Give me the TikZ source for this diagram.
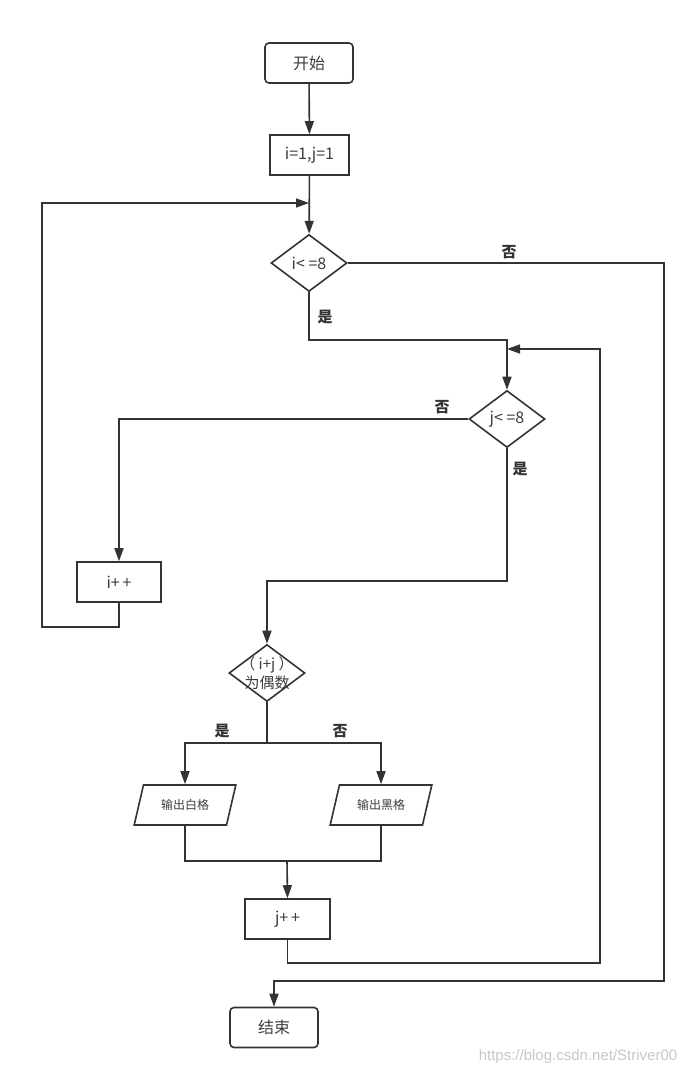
\documentclass[tikz,border=0pt]{standalone}
\usepackage{fontspec}
\setmainfont{Noto Sans CJK SC}
\newfontfamily\markfont{Liberation Sans}
\usepackage{tikz}
\usetikzlibrary{positioning, arrows.meta, shapes.geometric}

\definecolor{linegray}{HTML}{333333}
\definecolor{textgray}{HTML}{3C3C3C}

\tikzset{
    flowline/.style={draw=linegray, line width=1.6pt},
    flow/.style={flowline, -{Triangle[length=13pt, width=9pt]}},
    startstop/.style={rectangle, rounded corners=4pt, draw=linegray, line width=1.6pt, minimum width=88pt, minimum height=40pt, font=\fontsize{16}{18}\selectfont, text=textgray},
    procbox/.style={rectangle, draw=linegray, line width=1.6pt, minimum height=40pt, font=\fontsize{16}{18}\selectfont, text=textgray},
    decision/.style={diamond, draw=linegray, line width=1.6pt, aspect=1.33, minimum width=76pt, minimum height=57pt, inner sep=0pt, font=\fontsize{16}{18}\selectfont, text=textgray},
    iobox/.style={trapezium, trapezium left angle=71, trapezium right angle=109, trapezium stretches=true, draw=linegray, line width=1.6pt, minimum width=102pt, minimum height=40pt, font=\fontsize{12}{14}\selectfont, text=textgray},
    answer/.style={font=\fontsize{15}{17}\selectfont\bfseries, text=linegray}
}

\begin{document}
\begin{tikzpicture}[x=1pt, y=-1pt]
    \useasboundingbox (0,0) rectangle (692,1078);

    \node[startstop] (start) at (309, 63) {开始};
    \node[procbox, minimum width=79pt] (init) at (309.5, 155) {i=1,j=1};
    \node[decision] (idec) at (309, 263) {i< =8};
    \node[decision] (jdec) at (507, 419) {j< =8};
    \node[procbox, minimum width=84pt] (iplus) at (119, 582) {i+\,+};
    \node[decision, align=center, inner sep=-7pt, font=\fontsize{15}{19}\selectfont] (pdec) at (267, 673) {（ i+j ）\\为偶数};
    \node[iobox] (white) at (185, 805) {输出白格};
    \node[iobox] (black) at (381, 805) {输出黑格};
    \node[procbox, minimum width=85pt] (jplus) at (287.5, 919) {j+\,+};
    \node[startstop] (stop) at (274, 1027.5) {结束};

    % turning points
    \coordinate (m1) at (309, 203);
    \coordinate (lp1) at (42, 627);
    \coordinate (yb) at (507, 340);
    \coordinate (m2) at (507, 349);
    \coordinate (jl) at (600, 963);
    \coordinate (or1) at (664, 981);
    \coordinate (jb) at (507, 581);
    \coordinate (pb) at (267, 743);
    \coordinate (mb) at (287, 861);

    \draw[flow] (start) -- (init);
    \draw[flow] (init) -- (idec);
    \draw[flow] (iplus.south) |- (lp1) |- (m1);
    \draw[flow] (idec.east) -| (or1) -| (stop.north);
    \draw[flow] (idec.south) |- (yb) -- (jdec.north);
    \draw[flow] (jplus.south) |- (jl) |- (m2);
    \draw[flow] (jdec.west) -| (iplus.north);
    \draw[flow] (jdec.south) -- (jb) -| (pdec.north);
    \draw[flowline] (pdec.south) -- (pb);
    \draw[flow] (pb) -| (white.north);
    \draw[flow] (pb) -| (black.north);
    \draw[flowline] (white.south) |- (mb);
    \draw[flowline] (black.south) |- (mb);
    \draw[flow] (mb) -- (jplus.north);

    \node[answer] (ino) at (509, 252) {否};
    \node[answer] (iyes) at (325, 317) {是};
    \node[answer] (jno) at (442, 407) {否};
    \node[answer] (jyes) at (520, 469) {是};
    \node[answer] (pyes) at (222, 731) {是};
    \node[answer] (pno) at (340, 731) {否};

    \node[text=black!22, font=\fontsize{15}{17}\selectfont\markfont] (mark) at (578, 1057) {https://blog.csdn.net/Striver00};
\end{tikzpicture}
\end{document}
